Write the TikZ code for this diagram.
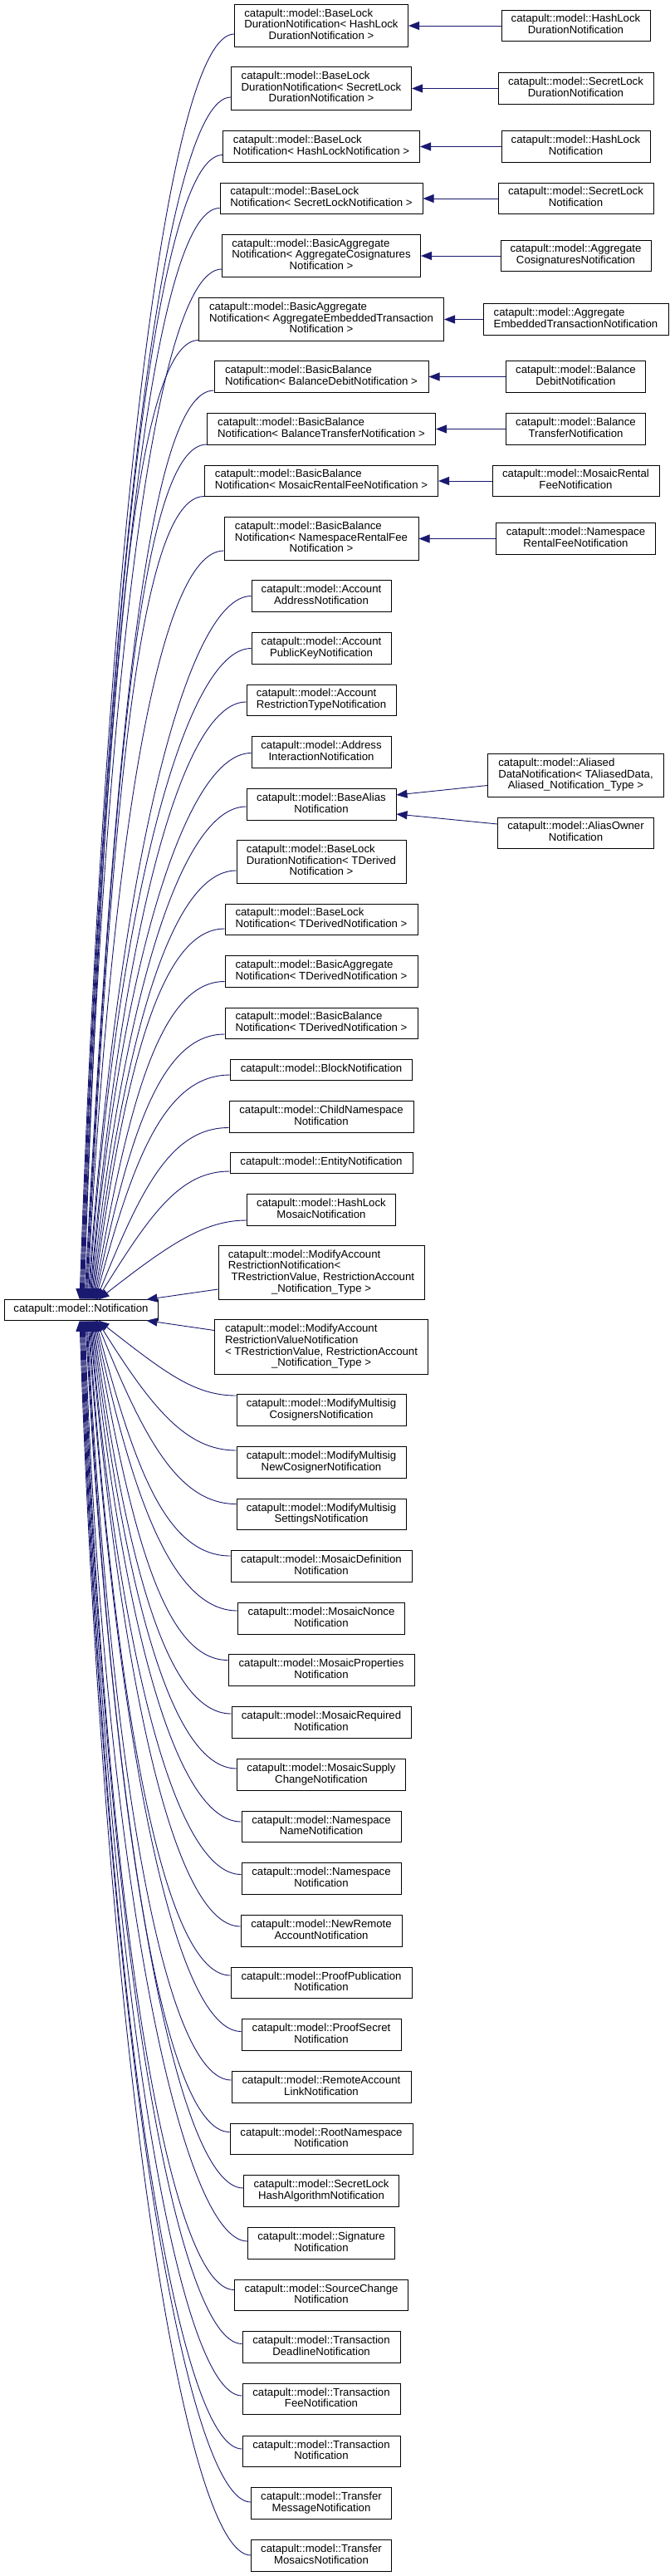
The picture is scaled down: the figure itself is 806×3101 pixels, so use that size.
\documentclass[tikz,border=0pt]{standalone}
\usepackage{fontspec}
\newfontfamily\doxfont{Liberation Sans}
\usepackage{xcolor}
\usepackage{tikz}
\usetikzlibrary{arrows.meta}
\definecolor{navy}{HTML}{191970}
\newcommand{\lbl}[2]{\begin{tabular}{@{}l@{}}#1\\\multicolumn{1}{@{}c@{}}{#2}\end{tabular}}
\tikzset{
  cls/.style={draw=black, line width=1pt, fill=white, inner xsep=3pt, inner ysep=5.35pt,
    font=\doxfont\fontsize{13.2}{13.4}\selectfont, execute at begin node=\strut},
  inh/.style={draw=navy, line width=0.9pt, {Triangle[length=13pt,width=10pt]}-}
}
\begin{document}
\begin{tikzpicture}[x=1pt, y=1pt]
  \useasboundingbox (0,0) rectangle (806,-3101);
  \node[cls, minimum width=185pt] (notif) at (97.5,-1577) {catapult::model::Notification};

  \node[cls, minimum width=209pt] (blDurHash) at (387,-31) {\lbl{catapult::model::BaseLock\\DurationNotification< HashLock}{DurationNotification >}};
  \node[cls, minimum width=179pt] (hashDur) at (693.5,-31) {\lbl{catapult::model::HashLock}{DurationNotification}};
  \node[cls, minimum width=217pt] (blDurSecret) at (387,-106.5) {\lbl{catapult::model::BaseLock\\DurationNotification< SecretLock}{DurationNotification >}};
  \node[cls, minimum width=187pt] (secretDur) at (693.5,-106.5) {\lbl{catapult::model::SecretLock}{DurationNotification}};
  \node[cls, minimum width=237pt] (blHash) at (387,-176.5) {\lbl{catapult::model::BaseLock}{Notification< HashLockNotification >}};
  \node[cls, minimum width=179pt] (hashLock) at (693.5,-176.5) {\lbl{catapult::model::HashLock}{Notification}};
  \node[cls, minimum width=244pt] (blSecret) at (387,-239) {\lbl{catapult::model::BaseLock}{Notification< SecretLockNotification >}};
  \node[cls, minimum width=187pt] (secretLock) at (693.5,-239) {\lbl{catapult::model::SecretLock}{Notification}};
  \node[cls, minimum width=239pt] (baCosig) at (387,-308) {\lbl{catapult::model::BasicAggregate\\Notification< AggregateCosignatures}{Notification >}};
  \node[cls, minimum width=181pt] (aggCosig) at (693.5,-308) {\lbl{catapult::model::Aggregate}{CosignaturesNotification}};
  \node[cls, minimum width=295pt] (baEmbed) at (387,-384.5) {\lbl{catapult::model::BasicAggregate\\Notification< AggregateEmbeddedTransaction}{Notification >}};
  \node[cls, minimum width=223pt] (aggEmbed) at (693.5,-384.5) {\lbl{catapult::model::Aggregate}{EmbeddedTransactionNotification}};
  \node[cls, minimum width=258pt] (bbDebit) at (387,-453.5) {\lbl{catapult::model::BasicBalance}{Notification< BalanceDebitNotification >}};
  \node[cls, minimum width=168pt] (balDebit) at (693.5,-453.5) {\lbl{catapult::model::Balance}{DebitNotification}};
  \node[cls, minimum width=275pt] (bbTransfer) at (387,-516.5) {\lbl{catapult::model::BasicBalance}{Notification< BalanceTransferNotification >}};
  \node[cls, minimum width=168pt] (balTransfer) at (693.5,-516.5) {\lbl{catapult::model::Balance}{TransferNotification}};
  \node[cls, minimum width=281pt] (bbMosaicFee) at (387,-579) {\lbl{catapult::model::BasicBalance}{Notification< MosaicRentalFeeNotification >}};
  \node[cls, minimum width=201pt] (mosaicRentalFee) at (693.5,-579) {\lbl{catapult::model::MosaicRental}{FeeNotification}};
  \node[cls, minimum width=234pt] (bbNsFee) at (387,-648.5) {\lbl{catapult::model::BasicBalance\\Notification< NamespaceRentalFee}{Notification >}};
  \node[cls, minimum width=192pt] (nsRentalFee) at (693.5,-648.5) {\lbl{catapult::model::Namespace}{RentalFeeNotification}};

  \node[cls, minimum width=168pt] (accAddress) at (387,-717.5) {\lbl{catapult::model::Account}{AddressNotification}};
  \node[cls, minimum width=168pt] (accKey) at (387,-780.5) {\lbl{catapult::model::Account}{PublicKeyNotification}};
  \node[cls, minimum width=180pt] (accRestrType) at (387,-843) {\lbl{catapult::model::Account}{RestrictionTypeNotification}};
  \node[cls, minimum width=168pt] (addrInteract) at (387,-905.5) {\lbl{catapult::model::Address}{InteractionNotification}};
  \node[cls, minimum width=180pt] (baseAlias) at (387,-968.5) {\lbl{catapult::model::BaseAlias}{Notification}};
  \node[cls, minimum width=212pt] (aliasedData) at (693.5,-933.5) {\lbl{catapult::model::Aliased\\DataNotification< TAliasedData,}{Aliased\_Notification\_Type >}};
  \node[cls, minimum width=188pt] (aliasOwner) at (693.5,-1003) {\lbl{catapult::model::AliasOwner}{Notification}};
  \node[cls, minimum width=204pt] (blDurDerived) at (387,-1037.5) {\lbl{catapult::model::BaseLock\\DurationNotification< TDerived}{Notification >}};
  \node[cls, minimum width=232pt] (blDerived) at (387,-1107) {\lbl{catapult::model::BaseLock}{Notification< TDerivedNotification >}};
  \node[cls, minimum width=232pt] (baDerived) at (387,-1169.5) {\lbl{catapult::model::BasicAggregate}{Notification< TDerivedNotification >}};
  \node[cls, minimum width=232pt] (bbDerived) at (387,-1232) {\lbl{catapult::model::BasicBalance}{Notification< TDerivedNotification >}};
  \node[cls, minimum width=219pt] (block) at (387,-1288) {catapult::model::BlockNotification};
  \node[cls, minimum width=222pt] (childNs) at (387,-1344.5) {\lbl{catapult::model::ChildNamespace}{Notification}};
  \node[cls, minimum width=220pt] (entity) at (387,-1400) {catapult::model::EntityNotification};
  \node[cls, minimum width=179pt] (hashMosaic) at (387,-1456.5) {\lbl{catapult::model::HashLock}{MosaicNotification}};
  \node[cls, minimum width=248pt] (modAccRestr) at (387,-1532) {\lbl{catapult::model::ModifyAccount\\RestrictionNotification<\\\ TRestrictionValue, RestrictionAccount}{\_Notification\_Type >}};
  \node[cls, minimum width=257pt] (modAccRestrValue) at (387,-1621.5) {\lbl{catapult::model::ModifyAccount\\RestrictionValueNotification\\< TRestrictionValue, RestrictionAccount}{\_Notification\_Type >}};
  \node[cls, minimum width=204pt] (msigCosig) at (387,-1697.5) {\lbl{catapult::model::ModifyMultisig}{CosignersNotification}};
  \node[cls, minimum width=204pt] (msigNewCosig) at (387,-1760.5) {\lbl{catapult::model::ModifyMultisig}{NewCosignerNotification}};
  \node[cls, minimum width=204pt] (msigSettings) at (387,-1823) {\lbl{catapult::model::ModifyMultisig}{SettingsNotification}};
  \node[cls, minimum width=218pt] (mosaicDef) at (387,-1885.5) {\lbl{catapult::model::MosaicDefinition}{Notification}};
  \node[cls, minimum width=201pt] (mosaicNonce) at (387,-1948.5) {\lbl{catapult::model::MosaicNonce}{Notification}};
  \node[cls, minimum width=224pt] (mosaicProps) at (387,-2010.5) {\lbl{catapult::model::MosaicProperties}{Notification}};
  \node[cls, minimum width=216pt] (mosaicReq) at (387,-2073.5) {\lbl{catapult::model::MosaicRequired}{Notification}};
  \node[cls, minimum width=203pt] (mosaicSupply) at (387,-2136.5) {\lbl{catapult::model::MosaicSupply}{ChangeNotification}};
  \node[cls, minimum width=192pt] (nsName) at (387,-2199) {\lbl{catapult::model::Namespace}{NameNotification}};
  \node[cls, minimum width=192pt] (namespace) at (387,-2261.5) {\lbl{catapult::model::Namespace}{Notification}};
  \node[cls, minimum width=194pt] (newRemote) at (387,-2324.5) {\lbl{catapult::model::NewRemote}{AccountNotification}};
  \node[cls, minimum width=218pt] (proofPub) at (387,-2387) {\lbl{catapult::model::ProofPublication}{Notification}};
  \node[cls, minimum width=192pt] (proofSecret) at (387,-2449.5) {\lbl{catapult::model::ProofSecret}{Notification}};
  \node[cls, minimum width=216pt] (remoteLink) at (387,-2512.5) {\lbl{catapult::model::RemoteAccount}{LinkNotification}};
  \node[cls, minimum width=220pt] (rootNs) at (387,-2575) {\lbl{catapult::model::RootNamespace}{Notification}};
  \node[cls, minimum width=187pt] (secretHashAlg) at (387,-2637.5) {\lbl{catapult::model::SecretLock}{HashAlgorithmNotification}};
  \node[cls, minimum width=177pt] (signature) at (387,-2700.5) {\lbl{catapult::model::Signature}{Notification}};
  \node[cls, minimum width=209pt] (sourceChange) at (387,-2763) {\lbl{catapult::model::SourceChange}{Notification}};
  \node[cls, minimum width=190pt] (txDeadline) at (387,-2825.5) {\lbl{catapult::model::Transaction}{DeadlineNotification}};
  \node[cls, minimum width=190pt] (txFee) at (387,-2888) {\lbl{catapult::model::Transaction}{FeeNotification}};
  \node[cls, minimum width=190pt] (transaction) at (387,-2951) {\lbl{catapult::model::Transaction}{Notification}};
  \node[cls, minimum width=169pt] (xferMessage) at (387,-3013.5) {\lbl{catapult::model::Transfer}{MessageNotification}};
  \node[cls, minimum width=169pt] (xferMosaics) at (387,-3076.5) {\lbl{catapult::model::Transfer}{MosaicsNotification}};

  \draw[inh] (blDurHash.east) -- (hashDur.west);
  \draw[inh] (blDurSecret.east) -- (secretDur.west);
  \draw[inh] (blHash.east) -- (hashLock.west);
  \draw[inh] (blSecret.east) -- (secretLock.west);
  \draw[inh] (baCosig.east) -- (aggCosig.west);
  \draw[inh] (baEmbed.east) -- (aggEmbed.west);
  \draw[inh] (bbDebit.east) -- (balDebit.west);
  \draw[inh] (bbTransfer.east) -- (balTransfer.west);
  \draw[inh] (bbMosaicFee.east) -- (mosaicRentalFee.west);
  \draw[inh] (bbNsFee.east) -- (nsRentalFee.west);
  \draw[inh] ([yshift=11.5pt]baseAlias.east) -- ([yshift=-12pt]aliasedData.west);
  \draw[inh] ([yshift=-11.5pt]baseAlias.east) -- ([yshift=11pt]aliasOwner.west);

  \draw[inh] ([xshift=-1.5pt]notif.north) .. controls +(88:914) and +(-80,0) .. ([yshift=-10pt]blDurHash.west);
  \draw[inh] ([xshift=-0.5pt]notif.north) .. controls +(88:869) and +(-80,0) .. ([yshift=-10.5pt]blDurSecret.west);
  \draw[inh] ([xshift=0.5pt]notif.north) .. controls +(88:827) and +(-80,0) .. ([yshift=-10pt]blHash.west);
  \draw[inh] ([xshift=1.5pt]notif.north) .. controls +(88:789) and +(-80,0) .. ([yshift=-11.5pt]blSecret.west);
  \draw[inh] ([xshift=2.5pt]notif.north) .. controls +(88:745) and +(-80,0) .. ([yshift=-16pt]baCosig.west);
  \draw[inh] ([xshift=3.5pt]notif.north) .. controls +(88:693) and +(-80,0) .. ([yshift=-25pt]baEmbed.west);
  \draw[inh] ([xshift=4.5pt]notif.north) .. controls +(87:657) and +(-80,0) .. ([yshift=-16.5pt]bbDebit.west);
  \draw[inh] ([xshift=5.5pt]notif.north) .. controls +(87:618) and +(-80,0) .. ([yshift=-18.5pt]bbTransfer.west);
  \draw[inh] ([xshift=6.5pt]notif.north) .. controls +(87:580) and +(-80,0) .. ([yshift=-18.5pt]bbMosaicFee.west);
  \draw[inh] ([xshift=7.5pt]notif.north) .. controls +(87:541) and +(-80,0) .. ([yshift=-14.5pt]bbNsFee.west);
  \draw[inh] ([xshift=8.5pt]notif.north) .. controls +(86:508) and +(-80,0) .. (accAddress.west);
  \draw[inh] ([xshift=9.5pt]notif.north) .. controls +(86:471) and +(-80,0) .. (accKey.west);
  \draw[inh] ([xshift=10.5pt]notif.north) .. controls +(85:432) and +(-80,0) .. ([yshift=-2pt]accRestrType.west);
  \draw[inh] ([xshift=11.5pt]notif.north) .. controls +(85:395) and +(-80,0) .. ([yshift=-1pt]addrInteract.west);
  \draw[inh] ([xshift=12.5pt]notif.north) .. controls +(84:356) and +(-80,0) .. ([yshift=-2.5pt]baseAlias.west);
  \draw[inh] ([xshift=13.5pt]notif.north) .. controls +(83:310) and +(-80,0) .. ([yshift=-10.5pt]blDurDerived.west);
  \draw[inh] ([xshift=14.5pt]notif.north) .. controls +(82:268) and +(-80,0) .. ([yshift=-11pt]blDerived.west);
  \draw[inh] ([xshift=15.5pt]notif.north) .. controls +(80:230) and +(-80,0) .. ([yshift=-12pt]baDerived.west);
  \draw[inh] ([xshift=16.5pt]notif.north) .. controls +(78:192) and +(-80,0) .. ([yshift=-13pt]bbDerived.west);
  \draw[inh] ([xshift=17.5pt]notif.north) .. controls +(75:170) and +(-80,0) .. ([yshift=-6pt]block.west);
  \draw[inh] ([xshift=18.5pt]notif.north) .. controls +(68:143) and +(-70,0) .. ([yshift=-13pt]childNs.west);
  \draw[inh] ([xshift=19.5pt]notif.north) .. controls +(58:121) and +(-60,0) .. ([yshift=-10pt]entity.west);
  \draw[inh] ([xshift=21pt]notif.north) .. controls +(38:110) and +(-50,0) .. ([yshift=-12.5pt]hashMosaic.west);
  \draw[inh] ([xshift=-14pt]notif.north east) -- ([yshift=-20pt]modAccRestr.west);
  \draw[inh] ([xshift=-14pt]notif.south east) -- ([yshift=20pt]modAccRestrValue.west);
  \draw[inh] ([xshift=21pt]notif.south) .. controls +(-38:103) and +(-50,0) .. ([yshift=17.5pt]msigCosig.west);
  \draw[inh] ([xshift=19.5pt]notif.south) .. controls +(-58:125) and +(-60,0) .. ([yshift=14.5pt]msigNewCosig.west);
  \draw[inh] ([xshift=18.5pt]notif.south) .. controls +(-68:152) and +(-70,0) .. ([yshift=12.5pt]msigSettings.west);
  \draw[inh] ([xshift=17.5pt]notif.south) .. controls +(-75:175) and +(-80,0) .. ([yshift=12.5pt]mosaicDef.west);
  \draw[inh] ([xshift=16.5pt]notif.south) .. controls +(-78:210) and +(-80,0) .. ([yshift=9.5pt]mosaicNonce.west);
  \draw[inh] ([xshift=15.5pt]notif.south) .. controls +(-80:246) and +(-80,0) .. ([yshift=12pt]mosaicProps.west);
  \draw[inh] ([xshift=14.5pt]notif.south) .. controls +(-82:284) and +(-80,0) .. ([yshift=10.5pt]mosaicReq.west);
  \draw[inh] ([xshift=13.5pt]notif.south) .. controls +(-83:324) and +(-80,0) .. ([yshift=7.5pt]mosaicSupply.west);
  \draw[inh] ([xshift=12.5pt]notif.south) .. controls +(-84:362) and +(-80,0) .. ([yshift=6pt]nsName.west);
  \draw[inh] ([xshift=11.5pt]notif.south) .. controls +(-85:400) and +(-80,0) .. ([yshift=5pt]namespace.west);
  \draw[inh] ([xshift=10.5pt]notif.south) .. controls +(-85:438) and +(-80,0) .. ([yshift=5.5pt]newRemote.west);
  \draw[inh] ([xshift=9.5pt]notif.south) .. controls +(-86:473) and +(-80,0) .. ([yshift=9pt]proofPub.west);
  \draw[inh] ([xshift=8.5pt]notif.south) .. controls +(-86:514) and +(-80,0) .. ([yshift=4pt]proofSecret.west);
  \draw[inh] ([xshift=7.5pt]notif.south) .. controls +(-87:549) and +(-80,0) .. ([yshift=8.5pt]remoteLink.west);
  \draw[inh] ([xshift=6.5pt]notif.south) .. controls +(-87:587) and +(-80,0) .. ([yshift=8.5pt]rootNs.west);
  \draw[inh] ([xshift=5.5pt]notif.south) .. controls +(-87:627) and +(-80,0) .. ([yshift=3.5pt]secretHashAlg.west);
  \draw[inh] ([xshift=4.5pt]notif.south) .. controls +(-88:665) and +(-80,0) .. ([yshift=2.5pt]signature.west);
  \draw[inh] ([xshift=3.5pt]notif.south) .. controls +(-88:700) and +(-80,0) .. ([yshift=6.5pt]sourceChange.west);
  \draw[inh] ([xshift=2.5pt]notif.south) .. controls +(-88:740) and +(-80,0) .. ([yshift=4pt]txDeadline.west);
  \draw[inh] ([xshift=1.5pt]notif.south) .. controls +(-88:777) and +(-80,0) .. ([yshift=4pt]txFee.west);
  \draw[inh] ([xshift=0.5pt]notif.south) .. controls +(-88:815) and +(-80,0) .. ([yshift=3pt]transaction.west);
  \draw[inh] ([xshift=-0.5pt]notif.south) .. controls +(-88:854) and +(-80,0) .. ([yshift=1.5pt]xferMessage.west);
  \draw[inh] ([xshift=-1.5pt]notif.south) .. controls +(-88:892) and +(-80,0) .. ([yshift=0.5pt]xferMosaics.west);
\end{tikzpicture}
\end{document}
